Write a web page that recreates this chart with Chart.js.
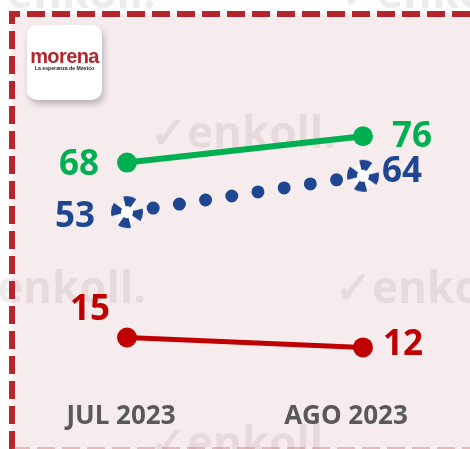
<!DOCTYPE html>
<html>
<head>
<meta charset="utf-8">
<script src="https://cdn.jsdelivr.net/npm/chart.js@4/dist/chart.umd.min.js"></script>
<style>
  html, body { margin: 0; padding: 0; background: #fff; }
  .wrap { position: relative; width: 470px; height: 449px; overflow: hidden; }
  .logo {
    position: absolute; left: 27px; top: 25px; width: 75px; height: 75px;
    background: #fff; border-radius: 10px;
    box-shadow: 2px 4px 6px rgba(0,0,0,0.25);
    text-align: center; font-family: "Liberation Sans", Arial, sans-serif;
  }
  .logo .name { color: #B5262C; font-weight: bold; font-size: 20px; margin-top: 22px; letter-spacing: -0.6px; line-height: 18px; }
  .logo .sub { color: #222; font-size: 5.2px; font-weight: bold; line-height: 7px; }
</style>
</head>
<body>
<div class="wrap">
  <canvas id="chart" width="470" height="449"></canvas>
  <div class="logo"><div class="name">morena</div><div class="sub">La esperanza de México</div></div>
</div>
<script>
const months = ['JUL 2023', 'AGO 2023']
const greenValues = [68, 76]
const blueValues = [53, 64]
const redValues = [15, 12]

// label placement per series: [first point, last point] offsets
const labelOffsets = {
    green: [[-48, 2], [49, 1]],
    blue: [[-52, 5], [39, -4]],
    red: [[-37, -27], [40, -2]]
}
const monthOffsets = [-6, -17]

function dashedMarker() {
    const c = document.createElement('canvas')
    c.width = 36
    c.height = 36
    const g = c.getContext('2d')
    g.beginPath()
    g.arc(18, 18, 11, 0, Math.PI * 2)
    g.fillStyle = '#fff'
    g.fill()
    g.lineWidth = 10
    g.strokeStyle = '#1F4690'
    const circ = 2 * Math.PI * 11
    g.setLineDash([circ / 4 * 0.55, circ / 4 * 0.45])
    g.lineDashOffset = 3
    g.stroke()
    return c
}

const backdrop = {
    id: 'backdrop',
    beforeDraw(chart) {
        const ctx = chart.ctx
        ctx.save()
        ctx.fillStyle = '#F6ECEE'
        ctx.fillRect(12, 14, 470, 449)
        // watermarks
        ctx.fillStyle = 'rgba(140,120,125,0.15)'
        ctx.font = 'bold 44px "Open Sans"'
        const marks = [[-30, 8], [340, 8], [150, 148], [-40, 303], [335, 303], [150, 458]]
        marks.forEach(m => ctx.fillText('\u2713enkoll.', m[0], m[1]))
        // dashed border
        ctx.strokeStyle = '#B5262C'
        ctx.lineWidth = 6
        ctx.setLineDash([18, 7])
        ctx.beginPath()
        ctx.moveTo(12, 449)
        ctx.lineTo(12, 14)
        ctx.lineTo(470, 14)
        ctx.stroke()
        ctx.strokeStyle = 'rgba(200,90,100,0.35)'
        ctx.lineWidth = 2
        ctx.beginPath()
        ctx.moveTo(12, 448)
        ctx.lineTo(470, 448)
        ctx.stroke()
        ctx.restore()
    }
}

const labelsPlugin = {
    id: 'valueLabels',
    afterDatasetsDraw(chart) {
        const ctx = chart.ctx
        ctx.save()
        ctx.textAlign = 'center'
        ctx.textBaseline = 'middle'
        ctx.font = 'bold 35px "Open Sans"'
        chart.data.datasets.forEach((ds, i) => {
            const meta = chart.getDatasetMeta(i)
            meta.data.forEach((pt, j) => {
                const off = labelOffsets[ds.key][j]
                ctx.fillStyle = ds.textColor
                ctx.fillText(ds.data[j], pt.x + off[0], pt.y + off[1])
            })
        })
        const x = chart.scales.x
        ctx.font = 'bold 26px "Open Sans"'
        ctx.fillStyle = '#595959'
        months.forEach((m, i) => {
            ctx.fillText(m, x.getPixelForValue(i) + monthOffsets[i], 417)
        })
        ctx.restore()
    }
}

const data = {
    labels: months,
    datasets: [
        {
            key: 'blue',
            data: blueValues,
            borderColor: '#1F4690',
            textColor: '#1F4690',
            borderWidth: 13,
            borderDash: [0, 26.5],
            borderCapStyle: 'round',
            pointStyle: dashedMarker(),
            clip: false
        },
        {
            key: 'green',
            data: greenValues,
            borderColor: '#00B050',
            backgroundColor: '#00B050',
            textColor: '#00B050',
            borderWidth: 6,
            pointRadius: 10,
            pointBorderWidth: 0,
            clip: false
        },
        {
            key: 'red',
            data: redValues,
            borderColor: '#C00000',
            backgroundColor: '#C00000',
            textColor: '#C00000',
            borderWidth: 5,
            pointRadius: 10,
            pointBorderWidth: 0,
            clip: false
        }
    ]
}

const config = {
    type: 'line',
    data: data,
    options: {
        responsive: false,
        animation: false,
        layout: { padding: { left: 127, right: 107, top: 123, bottom: 62 } },
        plugins: { legend: { display: false }, tooltip: { enabled: false } },
        scales: {
            x: { display: false, offset: false },
            y: { display: false, min: 0, max: 80 }
        }
    },
    plugins: [backdrop, labelsPlugin]
}

new Chart(document.getElementById('chart'), config)
</script>
</body>
</html>
